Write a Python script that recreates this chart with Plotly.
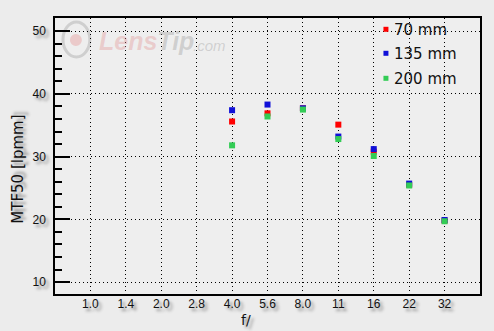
import plotly.graph_objects as go

apertures = ["1.0", "1.4", "2.0", "2.8", "4.0", "5.6", "8.0", "11", "16", "22", "32"]
ap_70 = ["4.0", "5.6", "8.0", "11", "16", "22", "32"]
mtf_70 = [35.6, 36.9, 37.7, 35.1, 30.8, 25.5, 19.8]
ap_135 = ["4.0", "5.6", "8.0", "11", "16", "22", "32"]
mtf_135 = [37.4, 38.3, 37.7, 33.2, 31.2, 25.7, 19.9]
ap_200 = ["4.0", "5.6", "8.0", "11", "16", "22", "32"]
mtf_200 = [31.8, 36.4, 37.5, 32.8, 30.1, 25.4, 19.7]

series = [
    ("70 mm", ap_70, mtf_70, "#ff0000"),
    ("135 mm", ap_135, mtf_135, "#1010d8"),
    ("200 mm", ap_200, mtf_200, "#33cc55"),
]

shadow = "3px 3px 3px #8a8a8a"
PL, PR, PT, PB = 55, 482, 18, 294  # plot area in pixels
W, H = 494, 331


def px(x):
    return (x - PL) / (PR - PL)


def py(y):
    return (PB - y) / (PB - PT)


fig = go.Figure()
for i, (name, xs, ys, col) in enumerate(series):
    fig.add_trace(go.Scatter(
        x=xs, y=ys, mode="markers", name=name, showlegend=False,
        marker=dict(symbol="square", size=6, color=col, line=dict(width=0)),
    ))

axis_common = dict(
    showline=True, linecolor="black", linewidth=1.5, mirror=True,
    showgrid=True, gridcolor="black", griddash="1px,3px", gridwidth=1,
    zeroline=False,
)

fig.update_xaxes(
    type="category", categoryorder="array", categoryarray=apertures,
    tickvals=apertures, range=[-1, 11], ticks="", ticklabelstandoff=-2,
    tickfont=dict(family="Liberation Sans", size=12, color="#111", shadow=shadow),
    **axis_common,
)
fig.update_yaxes(
    range=[8.1, 52.1], tickvals=[10, 20, 30, 40, 50], ticks="inside", ticklen=15,
    tickcolor="black", tickwidth=1.5, ticklabelstandoff=5,
    minor=dict(dtick=2, tick0=0, ticks="inside", ticklen=7, tickcolor="black", tickwidth=1.5, showgrid=False),
    tickfont=dict(family="Liberation Sans", size=12, color="#111", shadow=shadow),
    **axis_common,
)

# axis titles
fig.add_annotation(xref="paper", yref="paper", x=px(17), y=py(169.5), textangle=-90,
                   text="MTF50 [lpmm]", showarrow=False, xanchor="center", yanchor="middle",
                   font=dict(family="DejaVu Sans", size=15, color="#111", shadow=shadow))
fig.add_annotation(xref="paper", yref="paper", x=px(247), y=py(320),
                   text="f/", showarrow=False, xanchor="center", yanchor="middle",
                   font=dict(family="DejaVu Sans", size=14, color="#111", shadow=shadow))

# watermark
fig.add_shape(type="circle", xref="paper", yref="paper", x0=px(63), x1=px(90), y0=py(57), y1=py(22),
              line=dict(color="rgba(150,150,150,0.35)", width=3), layer="below")
fig.add_shape(type="circle", xref="paper", yref="paper", x0=px(70), x1=px(82), y0=py(46), y1=py(34),
              fillcolor="rgba(230,120,120,0.3)", line=dict(width=0), layer="below")
fig.add_annotation(xref="paper", yref="paper", x=px(97), y=py(41), xanchor="left", yanchor="middle",
                   text="<b><i><span style='color:rgba(225,140,140,0.35)'>Lens</span>"
                        "<span style='color:rgba(150,150,150,0.35)'>Tip</span></i></b>",
                   showarrow=False,
                   font=dict(family="Liberation Sans", size=25))
fig.add_annotation(xref="paper", yref="paper", x=px(192), y=py(45), xanchor="left", yanchor="middle",
                   text="<i>.com</i>", showarrow=False,
                   font=dict(family="Liberation Sans", size=15, color="rgba(150,150,150,0.35)"))

# legend (drawn manually)
fig.add_shape(type="rect", xref="paper", yref="paper", x0=px(377), x1=px(467), y0=py(89), y1=py(PT + 1),
              fillcolor="#eeeeee", line=dict(width=0), layer="between")
leg_y = [29.3, 53.3, 78.3]
for (name, xs, ys, col), ly in zip(series, leg_y):
    fig.add_shape(type="rect", xref="paper", yref="paper",
                  x0=px(385), x1=px(390), y0=py(ly + 2.5), y1=py(ly - 2.5),
                  fillcolor=col, line=dict(width=0), layer="above")
    fig.add_annotation(xref="paper", yref="paper", x=px(394), y=py(ly + 1), xanchor="left", yanchor="middle",
                       text=name, showarrow=False,
                       font=dict(family="DejaVu Sans", size=15, color="#111"))

fig.update_layout(
    width=W, height=H,
    margin=dict(l=PL, r=W - PR, t=PT, b=H - PB),
    paper_bgcolor="#ececec", plot_bgcolor="#eeeeee",
    showlegend=False,
)

fig.write_html("out.html")
